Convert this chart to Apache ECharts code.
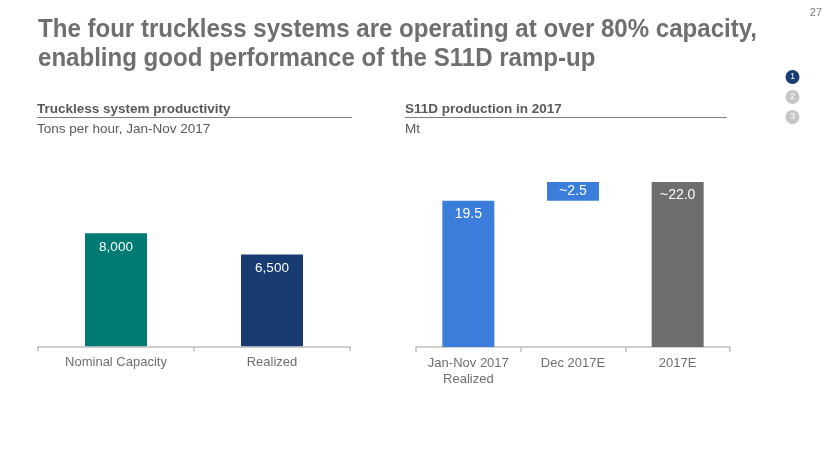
<!DOCTYPE html>
<html><head><meta charset="utf-8">
<script src="https://cdn.jsdelivr.net/npm/echarts@6/dist/echarts.min.js"></script>
<style>html,body{margin:0;padding:0;background:#fff}#c{width:830px;height:467px}</style>
</head><body><div id="c"></div>
<script>
const titleLines = ['The four truckless systems are operating at over 80% capacity,', 'enabling good performance of the S11D ramp-up'];
const leftHeading = 'Truckless system productivity';
const leftUnit = 'Tons per hour, Jan-Nov 2017';
const rightHeading = 'S11D production in 2017';
const rightUnit = 'Mt';
const pageNumber = '27';

const leftCategories = ['Nominal Capacity', 'Realized'];
const leftValues = [8000, 6500];
const leftColors = ['#007B73', '#173B72'];

const rightCategories = ['Jan-Nov 2017\nRealized', 'Dec 2017E', '2017E'];
const rightBase = [0, 19.5, 0];
const rightValues = [19.5, 2.5, 22.0];
const rightLabels = ['19.5', '~2.5', '~22.0'];
const rightColors = ['#3A7DDA', '#3A7DDA', '#6D6E70'];

const navDots = ['1', '2', '3'];

const chart = echarts.init(document.getElementById('c'), null, {renderer: 'canvas'});
const grey = '#6F6F6F';
const FONT = 'Liberation Sans';

// condensed title: measure and squeeze to the reference width
const titleFontSize = 25;
const ctx = document.createElement('canvas').getContext('2d');
ctx.font = 'bold ' + titleFontSize + 'px "' + FONT + '"';
const titleScale = 719 / ctx.measureText(titleLines[0]).width;

const axisCommon = {
  type: 'category',
  axisLine: {lineStyle: {color: '#BFBFBF', width: 1.5}},
  axisTick: {show: true, length: 5, lineStyle: {color: '#BFBFBF', width: 1.5}},
  axisLabel: {interval: 0, color: '#6F6F6F', fontSize: 13, fontFamily: FONT, margin: 8, lineHeight: 16}
};

const graphics = [];
titleLines.forEach((t, i) => {
  graphics.push({type: 'text', x: 38, y: 30.5 + i * 28.5, scaleX: titleScale,
    style: {text: t, fill: grey, fontSize: titleFontSize, fontWeight: 'bold', fontFamily: FONT, verticalAlign: 'middle'}});
});
graphics.push({type: 'text', x: 822, y: 13, style: {text: pageNumber, fill: '#7F7F7F', fontSize: 11, fontFamily: FONT, align: 'right', verticalAlign: 'middle'}});
[[37, 352, leftHeading, leftUnit], [405, 727, rightHeading, rightUnit]].forEach(h => {
  graphics.push({type: 'text', x: h[0], y: 109, style: {text: h[2], fill: '#595959', fontSize: 13.5, fontWeight: 'bold', fontFamily: FONT, verticalAlign: 'middle'}});
  graphics.push({type: 'line', shape: {x1: h[0], y1: 117.5, x2: h[1], y2: 117.5}, style: {stroke: '#7F7F7F', lineWidth: 1}});
  graphics.push({type: 'text', x: h[0], y: 129, style: {text: h[3], fill: '#595959', fontSize: 13.5, fontFamily: FONT, verticalAlign: 'middle'}});
});
navDots.forEach((d, i) => {
  graphics.push({type: 'circle', shape: {cx: 792.5, cy: 77 + i * 20, r: 7}, style: {fill: i === 0 ? '#173B72' : '#C6C6C6'}});
  graphics.push({type: 'text', x: 792.5, y: 77 + i * 20, style: {text: d, fill: '#fff', fontSize: 8.5, fontFamily: FONT, align: 'center', verticalAlign: 'middle'}});
});

chart.setOption({
  animation: false,
  graphic: graphics,
  grid: [
    {left: 38, width: 312, top: 205, height: 141.25, containLabel: false},
    {left: 416, width: 314, top: 122, height: 225, containLabel: false}
  ],
  xAxis: [
    Object.assign({}, axisCommon, {gridIndex: 0, data: leftCategories}),
    Object.assign({}, axisCommon, {gridIndex: 1, data: rightCategories})
  ],
  yAxis: [
    {type: 'value', gridIndex: 0, min: 0, max: 10000, show: false},
    {type: 'value', gridIndex: 1, min: 0, max: 30, show: false}
  ],
  series: [
    {type: 'bar', xAxisIndex: 0, yAxisIndex: 0, barWidth: 62,
     data: leftValues.map((v, i) => ({value: v, itemStyle: {color: leftColors[i]}})),
     label: {show: true, position: 'insideTop', distance: 7, color: '#fff', fontSize: 13.5, fontFamily: FONT,
       formatter: p => p.value.toLocaleString('en-US')}},
    {type: 'bar', xAxisIndex: 1, yAxisIndex: 1, stack: 'w', barWidth: 52,
     data: rightBase, itemStyle: {color: 'transparent'}, silent: true},
    {type: 'bar', xAxisIndex: 1, yAxisIndex: 1, stack: 'w', barWidth: 52,
     data: rightValues.map((v, i) => ({value: v, itemStyle: {color: rightColors[i]},
       label: {position: i === 1 ? 'inside' : 'insideTop'}})),
     label: {show: true, position: 'insideTop', distance: 6, color: '#fff', fontSize: 14, fontFamily: FONT,
       formatter: p => rightLabels[p.dataIndex]}}
  ]
});
</script></body></html>
